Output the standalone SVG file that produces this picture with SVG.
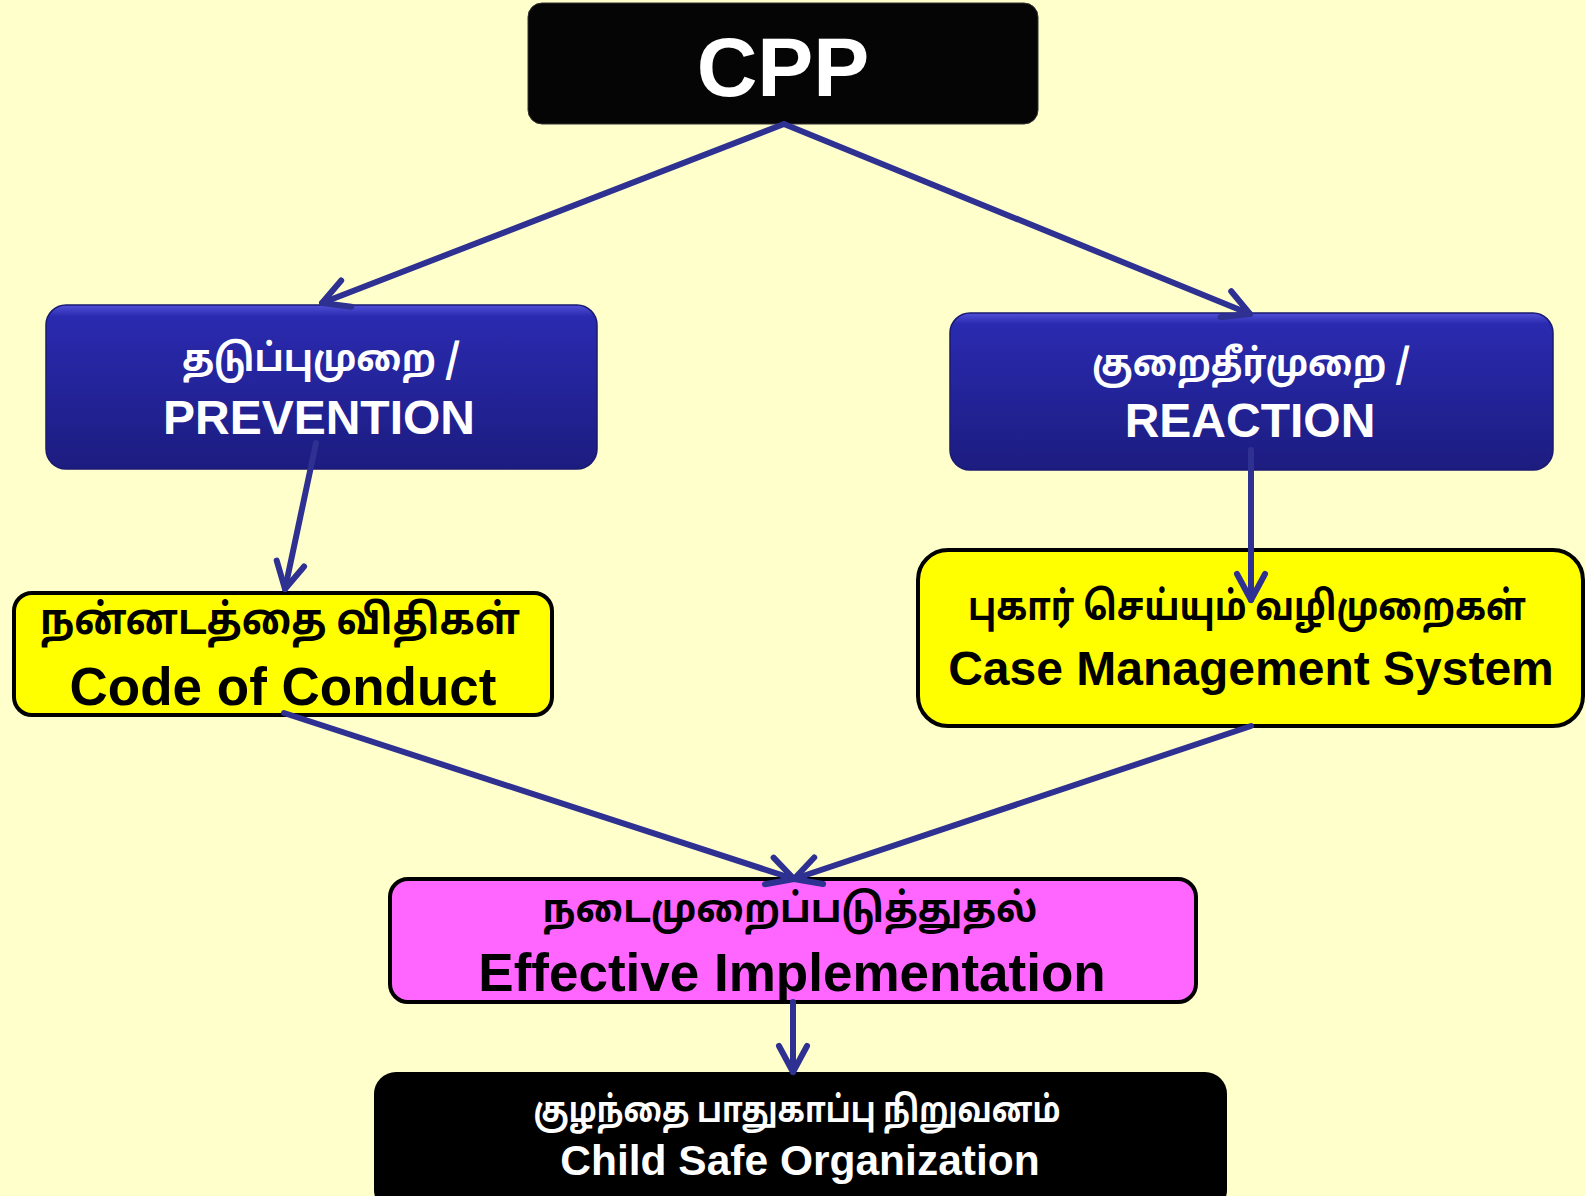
<svg xmlns="http://www.w3.org/2000/svg" width="1585" height="1196" viewBox="0 0 1585 1196">
<defs>
<linearGradient id="blueGrad" x1="0" y1="0" x2="0" y2="1">
<stop offset="0" stop-color="#5050d8"/>
<stop offset="0.07" stop-color="#2a2ab0"/>
<stop offset="1" stop-color="#1c1c80"/>
</linearGradient>
<marker id="arr" markerUnits="userSpaceOnUse" markerWidth="44" markerHeight="44" refX="32" refY="17" orient="auto" viewBox="0 0 44 34">
<path d="M6,3 L32,17 L6,31" fill="none" stroke="#2e3192" stroke-width="6" stroke-linecap="round" stroke-linejoin="round"/>
</marker>
<style>
.conn{stroke:#2e3192;stroke-width:6;fill:none;stroke-linecap:round;marker-end:url(#arr)}
.en{font-family:"Liberation Sans",Arial,sans-serif;font-weight:bold;text-anchor:middle}
.ta{font-family:"Noto Sans Tamil","Lohit Tamil","Latha","Noto Sans","DejaVu Sans",sans-serif;font-weight:bold;text-anchor:middle}
.w{fill:#ffffff}
.k{fill:#000000}
.blue{fill:url(#blueGrad);stroke:#1a1a70;stroke-width:1.5}
.yel{fill:#ffff00;stroke:#000;stroke-width:4}
.mag{fill:#ff66ff;stroke:#000;stroke-width:4}
</style>
</defs>
<rect x="0" y="0" width="1585" height="1196" fill="#ffffcc"/>

<g id="node-cpp">
<rect x="528" y="3" width="510" height="121" rx="14" fill="#050505" stroke="#333" stroke-width="1"/>
<text class="en w" x="783" y="96" font-size="84">CPP</text>
</g>

<g id="node-prevention">
<rect class="blue" x="46" y="305" width="551" height="164" rx="20"/>
<text class="ta w" x="321" y="371" font-size="38" textLength="278" lengthAdjust="spacingAndGlyphs">தடுப்புமுறை /</text>
<text class="en w" x="319" y="434" font-size="48">PREVENTION</text>
</g>

<g id="node-reaction">
<rect class="blue" x="950" y="313" width="603" height="157" rx="20"/>
<text class="ta w" x="1251" y="376" font-size="38" textLength="318" lengthAdjust="spacingAndGlyphs">குறைதீர்முறை /</text>
<text class="en w" x="1250" y="437" font-size="48">REACTION</text>
</g>

<g id="node-code">
<rect class="yel" x="14" y="593" width="538" height="122" rx="18"/>
<text class="ta k" x="280" y="634" font-size="42" textLength="480" lengthAdjust="spacingAndGlyphs">நன்னடத்தை விதிகள்</text>
<text class="en k" x="283" y="705" font-size="53">Code of Conduct</text>
</g>

<g id="node-case">
<rect class="yel" x="918" y="550" width="665" height="176" rx="30"/>
<text class="ta k" x="1247" y="620" font-size="40" textLength="558" lengthAdjust="spacingAndGlyphs">புகார் செய்யும் வழிமுறைகள்</text>
<text class="en k" x="1251" y="685" font-size="48">Case Management System</text>
</g>

<g id="node-effective">
<rect class="mag" x="390" y="879" width="806" height="123" rx="18"/>
<text class="ta k" x="790" y="922" font-size="40" textLength="495" lengthAdjust="spacingAndGlyphs">நடைமுறைப்படுத்துதல்</text>
<text class="en k" x="792" y="991" font-size="53">Effective Implementation</text>
</g>

<g id="node-child">
<rect x="374" y="1072" width="853" height="140" rx="22" fill="#000"/>
<text class="ta w" x="797" y="1122" font-size="36" textLength="527" lengthAdjust="spacingAndGlyphs">குழந்தை பாதுகாப்பு நிறுவனம்</text>
<text class="en w" x="800" y="1175" font-size="42.5">Child Safe Organization</text>
</g>

<g id="connectors">
<line class="conn" x1="784" y1="124" x2="322" y2="303"/>
<line class="conn" x1="784" y1="124" x2="1250" y2="314"/>
<line class="conn" x1="316" y1="443" x2="285" y2="589"/>
<line class="conn" x1="1251" y1="450" x2="1251" y2="600"/>
<line class="conn" x1="284" y1="713" x2="794" y2="879"/>
<line class="conn" x1="1251" y1="726" x2="794" y2="879"/>
<line class="conn" x1="793" y1="1002" x2="793" y2="1072"/>
</g>
</svg>
